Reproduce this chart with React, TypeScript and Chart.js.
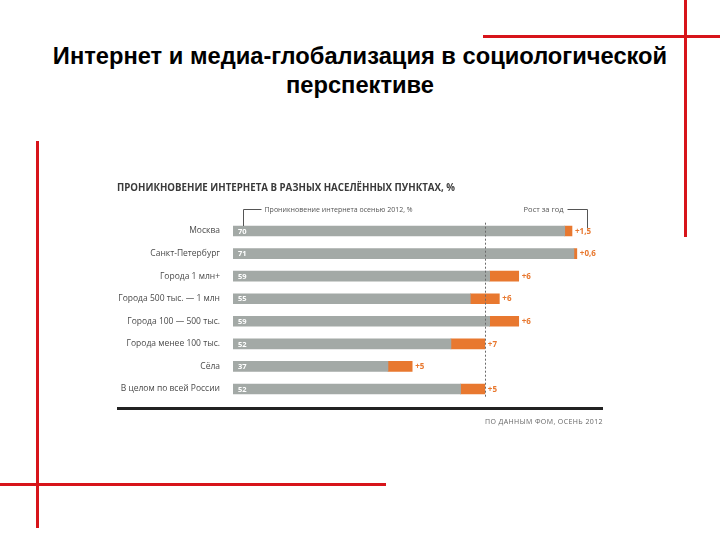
import { useEffect, useRef } from 'react';
import { Chart, registerables } from 'chart.js';

Chart.register(...registerables);

const categories = [
  'Москва',
  'Санкт-Петербург',
  'Города 1 млн+',
  'Города 500 тыс. — 1 млн',
  'Города 100 — 500 тыс.',
  'Города менее 100 тыс.',
  'Сёла',
  'В целом по всей России',
];
// internet penetration in autumn 2012, %
const penetration2012 = [70, 71, 59, 55, 59, 52, 37, 52];
// level a year earlier (grey part of the bar)
const previousYear = [68.5, 70.4, 53, 49, 53, 45, 32, 47];
// growth over the year (orange part of the bar)
const growth = [1.5, 0.6, 6, 6, 6, 7, 5, 5];
const growthLabels = ['+1,5', '+0,6', '+6', '+6', '+6', '+7', '+5', '+5'];
const averageRussia = 52;
const axisMax = 75;

const chartTitle = 'ПРОНИКНОВЕНИЕ ИНТЕРНЕТА В РАЗНЫХ НАСЕЛЁННЫХ ПУНКТАХ, %';
const legendLeft = 'Проникновение интернета осенью 2012, %';
const legendRight = 'Рост за год';
const sourceText = 'ПО ДАННЫМ ФОМ, ОСЕНЬ 2012';

const GREY = '#a3a9a6';
const ORANGE = '#e8782f';
const FONT = '"Open Sans", "DejaVu Sans", sans-serif';

const decorPlugin = {
  id: 'decor',
  afterDatasetsDraw(chart: any) {
    const { ctx, chartArea } = chart;
    const xs = chart.scales.x;
    const ys = chart.scales.y;
    ctx.save();
    // dashed average line
    const ax = Math.round(xs.getPixelForValue(averageRussia)) + 0.5;
    ctx.strokeStyle = '#6a6a6a';
    ctx.lineWidth = 1;
    ctx.setLineDash([2, 2]);
    ctx.beginPath();
    ctx.moveTo(ax, chartArea.top + 3);
    ctx.lineTo(ax, chartArea.bottom - 3);
    ctx.stroke();
    ctx.setLineDash([]);
    // labels
    ctx.textBaseline = 'middle';
    categories.forEach((_, i) => {
      const y = ys.getPixelForValue(i) + 0.5;
      ctx.font = `bold 7.5px ${FONT}`;
      ctx.fillStyle = '#ffffff';
      ctx.textAlign = 'left';
      ctx.fillText(String(penetration2012[i]), xs.getPixelForValue(0) + 5, y);
      ctx.font = `bold 8px ${FONT}`;
      ctx.fillStyle = ORANGE;
      ctx.fillText(growthLabels[i], xs.getPixelForValue(previousYear[i] + growth[i]) + 3, y);
    });
    ctx.restore();
  },
  afterDraw(chart: any) {
    const { ctx, chartArea } = chart;
    const ys = chart.scales.y;
    ctx.save();
    // chart title
    ctx.fillStyle = '#3a3a3a';
    ctx.font = `bold 9.7px ${FONT}`;
    ctx.textAlign = 'left';
    ctx.textBaseline = 'middle';
    ctx.fillText(chartTitle, 17, 18);
    // legend annotations
    const topBar = ys.getPixelForValue(0) - 5;
    const ly = 39.5;
    ctx.strokeStyle = '#555';
    ctx.lineWidth = 1;
    const lx = Math.round(chartArea.left + 10) + 0.5;
    ctx.beginPath();
    ctx.moveTo(lx, topBar);
    ctx.lineTo(lx, ly);
    ctx.lineTo(lx + 18, ly);
    ctx.stroke();
    ctx.fillStyle = '#555';
    ctx.font = `7px ${FONT}`;
    ctx.fillText(legendLeft, lx + 21, ly);
    const rx = Math.round(chartArea.right - 9) + 0.5;
    ctx.beginPath();
    ctx.moveTo(rx, topBar + 2);
    ctx.lineTo(rx, ly);
    ctx.lineTo(rx - 20, ly);
    ctx.stroke();
    ctx.textAlign = 'right';
    ctx.font = `7.5px ${FONT}`;
    ctx.fillText(legendRight, rx - 24, ly);
    // bottom black rule
    ctx.fillStyle = '#222';
    ctx.fillRect(17, 237, 486, 3);
    // source
    ctx.fillStyle = '#666';
    ctx.font = `7px ${FONT}`;
    ctx.textAlign = 'right';
    try {
      (ctx as any).letterSpacing = '0.4px';
    } catch (e) {
      /* ignore */
    }
    ctx.fillText(sourceText, 503, 252);
    ctx.restore();
  },
};

export default function App() {
  const ref = useRef<HTMLCanvasElement>(null);
  useEffect(() => {
    const canvas = ref.current!;
    const chart = new Chart(canvas, {
      type: 'bar',
      data: {
        labels: categories,
        datasets: [
          { label: 'Осень 2011', data: previousYear, backgroundColor: GREY, barThickness: 10, borderWidth: 0 },
          { label: 'Рост за год', data: growth, backgroundColor: ORANGE, barThickness: 10, borderWidth: 0 },
        ],
      },
      options: {
        indexAxis: 'y',
        responsive: false,
        animation: false,
        layout: { padding: { left: 0, right: 23.8, top: 49.7, bottom: 39.7 } },
        plugins: { legend: { display: false }, tooltip: { enabled: false }, title: { display: false } },
        scales: {
          x: { stacked: true, min: 0, max: axisMax, display: false },
          y: {
            stacked: true,
            grid: { display: false, drawTicks: false },
            border: { display: false },
            ticks: { padding: 13, color: '#4a4a4a', font: { family: FONT, size: 8.5 } },
            afterFit: (scale: any) => {
              scale.width = 133;
            },
          },
        },
      },
      plugins: [decorPlugin],
    } as any);
    return () => chart.destroy();
  }, []);

  const red = '#d7141a';
  return (
    <div style={{ position: 'absolute', left: 0, top: 0, width: 720, height: 540, background: '#fff', overflow: 'hidden' }}>
      <div style={{ position: 'absolute', left: 483, top: 35, width: 237, height: 3, background: red }} />
      <div style={{ position: 'absolute', left: 684, top: 0, width: 3, height: 237, background: red }} />
      <div style={{ position: 'absolute', left: 36, top: 141, width: 3, height: 387, background: red }} />
      <div style={{ position: 'absolute', left: 0, top: 483, width: 386, height: 3, background: red }} />
      <div
        style={{
          position: 'absolute',
          left: 0,
          top: 42,
          width: 720,
          textAlign: 'center',
          fontFamily: '"Liberation Sans", Arial, sans-serif',
          fontWeight: 'bold',
          fontSize: 23.7,
          lineHeight: '29px',
          color: '#000',
        }}
      >
        Интернет и медиа-глобализация в социологической
        <br />
        перспективе
      </div>
      <div style={{ position: 'absolute', left: 100, top: 170, width: 520, height: 270 }}>
        <canvas ref={ref} width={520} height={270} style={{ width: 520, height: 270, display: 'block' }} />
      </div>
    </div>
  );
}
